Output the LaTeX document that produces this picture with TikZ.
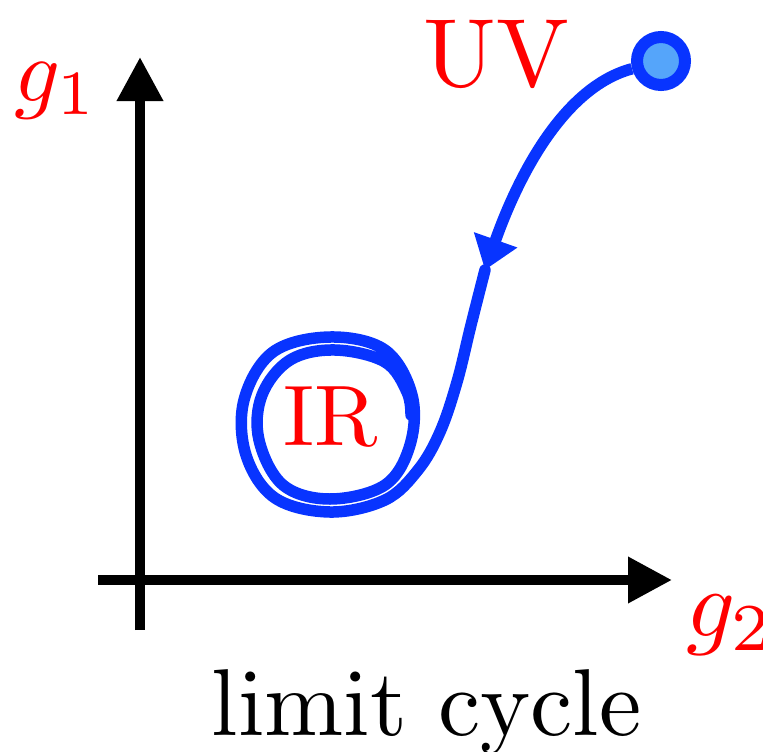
\documentclass[tikz,border=0pt]{standalone}
\usetikzlibrary{arrows.meta,shadows}
\definecolor{trajblue}{RGB}{8,52,255}
\definecolor{dotfill}{RGB}{85,165,250}
\definecolor{labred}{RGB}{255,0,0}
\font\capfont=cmr10 at 95pt
\font\uvfont=cmr10 at 97pt
\font\irfont=cmr10 at 86pt
\font\mifont=cmmi10 at 90pt
\font\subfont=cmr7 at 63pt
\font\mifontb=cmmi10 at 96pt
\font\subfontb=cmr7 at 67pt
\tikzset{
  axis/.style={line width=10pt,-{Triangle[length=44pt,width=44pt]}},
  traj/.style={trajblue,line width=11.5pt,line cap=round,line join=round},
  lab/.style={inner sep=0pt,text=labred},
}
\begin{document}
\begin{tikzpicture}[x=1pt,y=-1pt]
\useasboundingbox (0,0) rectangle (763,752);
% axes
\coordinate (xs) at (98,580);
\coordinate (xe) at (672,580);
\coordinate (ys) at (140,630);
\coordinate (ye) at (140,57);
\draw[axis] (xs) -- (xe);
\draw[axis] (ys) -- (ye);
% labels
\node[lab,anchor=base west] (g1) at (14,101) {\mifont g\lower13.5pt\hbox{\subfont 1}};
\node[lab,anchor=base west] (g2) at (686,636) {\mifontb g\lower14.5pt\hbox{\subfontb 2}};
\node[lab,anchor=base] (uvl) at (496,86) {\uvfont UV};
\node[lab,anchor=base] (irl) at (331,445) {\irfont IR};
\node[inner sep=0pt,anchor=base] (cap) at (427,735) {\capfont limit cycle};
% UV fixed point
\node[circle,draw=trajblue,fill=dotfill,line width=12pt,minimum size=48pt,inner sep=0pt,
      drop shadow={opacity=0.25,shadow xshift=1pt,shadow yshift=-3pt}] (uv) at (661,61) {};
% trajectory
\coordinate (arr) at (485,270);
\draw[trajblue,line width=11.5pt,-{Triangle[length=32pt,width=44pt]}]
  (uv.195) .. controls (560,88) and (515,185) .. (arr);
\draw[traj] plot[smooth,tension=0.6] coordinates {
  (arr) (471,325) (457,382) (440,432) (418,470) (385,500) (330,512) (275,498)
  (246,455) (244,400) (273,352) (330,337) (385,350) (412,395) (410,445)
  (385,485) (330,499) (283,485) (259,440) (262,395) (290,360) (335,350)
  (385,362) (407,392) (411,415)};
\end{tikzpicture}
\end{document}
